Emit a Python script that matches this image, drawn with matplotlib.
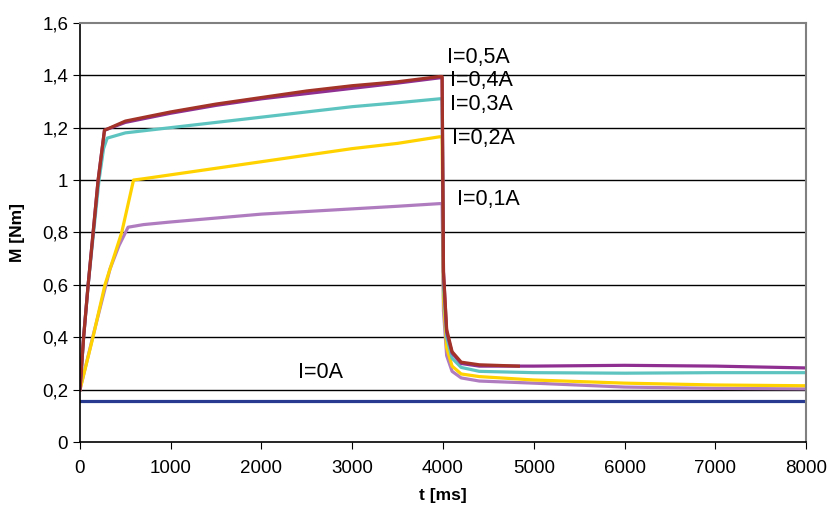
import matplotlib.pyplot as plt

plt.rcParams['font.family'] = ['Liberation Sans', 'DejaVu Sans']

t_0A = [0, 8000]
m_0A = [0.157, 0.157]

t_01A = [0, 140, 330, 430, 530, 700, 1000, 1500, 2000, 2500, 3000, 3500, 3960, 3990, 4005, 4040, 4100, 4200, 4400, 5000, 6000, 7000, 8000]
m_01A = [0.20, 0.40, 0.66, 0.75, 0.82, 0.83, 0.84, 0.855, 0.87, 0.88, 0.89, 0.90, 0.91, 0.91, 0.50, 0.33, 0.27, 0.245, 0.233, 0.225, 0.21, 0.205, 0.203]

t_02A = [0, 143, 275, 460, 590, 700, 1000, 1500, 2000, 2500, 3000, 3500, 3960, 3990, 4005, 4040, 4100, 4200, 4400, 5000, 6000, 7000, 8000]
m_02A = [0.20, 0.40, 0.60, 0.80, 1.00, 1.005, 1.02, 1.045, 1.07, 1.095, 1.12, 1.14, 1.165, 1.165, 0.55, 0.36, 0.29, 0.26, 0.25, 0.237, 0.225, 0.218, 0.215]

t_03A = [0, 40, 90, 210, 260, 300, 500, 1000, 1500, 2000, 2500, 3000, 3500, 3960, 3990, 4005, 4040, 4100, 4200, 4400, 5000, 6000, 7000, 8000]
m_03A = [0.20, 0.40, 0.60, 1.00, 1.12, 1.16, 1.18, 1.20, 1.22, 1.24, 1.26, 1.28, 1.295, 1.31, 1.31, 0.60, 0.40, 0.32, 0.285, 0.27, 0.265, 0.263, 0.265, 0.265]

t_04A = [0, 40, 90, 200, 270, 500, 1000, 1500, 2000, 2500, 3000, 3500, 3960, 3990, 4005, 4040, 4100, 4200, 4400, 5000, 6000, 7000, 8000]
m_04A = [0.20, 0.40, 0.60, 1.00, 1.19, 1.22, 1.255, 1.285, 1.31, 1.33, 1.35, 1.37, 1.39, 1.39, 0.65, 0.42, 0.34, 0.30, 0.29, 0.29, 0.293, 0.29, 0.283]

t_05A = [0, 40, 90, 200, 270, 500, 1000, 1500, 2000, 2500, 3000, 3500, 3960, 3990, 4005, 4040, 4100, 4200, 4400, 4830]
m_05A = [0.20, 0.40, 0.60, 1.00, 1.19, 1.225, 1.26, 1.29, 1.315, 1.34, 1.36, 1.375, 1.395, 1.395, 0.65, 0.43, 0.345, 0.305, 0.295, 0.29]

series = [
    (t_0A, m_0A, '#283A8F'),
    (t_01A, m_01A, '#B07CC0'),
    (t_02A, m_02A, '#FFD200'),
    (t_03A, m_03A, '#5EC4C0'),
    (t_04A, m_04A, '#8E2F91'),
    (t_05A, m_05A, '#A33228'),
]

labels = ['I=0A', 'I=0,1A', 'I=0,2A', 'I=0,3A', 'I=0,4A', 'I=0,5A']
label_t = [2400, 4150, 4100, 4080, 4080, 4040]
label_m = [0.265, 0.925, 1.16, 1.29, 1.378, 1.468]

fig = plt.figure(figsize=(8.27, 5.07), dpi=100)
ax = fig.add_axes([0.0967, 0.128, 0.878, 0.827])

for y in [0.2, 0.4, 0.6, 0.8, 1.0, 1.2, 1.4]:
    ax.axhline(y, color='black', lw=1, zorder=1)

for t, m, c in series:
    ax.plot(t, m, color=c, lw=2.3, zorder=2)

for lab, x, y in zip(labels, label_t, label_m):
    ax.text(x, y, lab, fontsize=15.5, va='center', ha='left')

ax.set_xlim(0, 8000)
ax.set_ylim(0, 1.6)
ax.set_xticks(range(0, 8001, 1000))
ax.set_yticks([0, 0.2, 0.4, 0.6, 0.8, 1.0, 1.2, 1.4, 1.6])
ax.set_yticklabels(['0', '0,2', '0,4', '0,6', '0,8', '1', '1,2', '1,4', '1,6'])
ax.tick_params(labelsize=13.5, length=5, direction='out', color='black')
ax.tick_params(axis='x', pad=8)
ax.spines['top'].set_color('#808080')
ax.spines['right'].set_color('#808080')
ax.spines['top'].set_linewidth(1.5)
ax.spines['right'].set_linewidth(1.5)
ax.spines['left'].set_linewidth(1.2)
ax.spines['bottom'].set_linewidth(1.2)

ax.set_xlabel('t [ms]', fontsize=12.5, fontweight='bold', labelpad=8)
ax.set_ylabel('M [Nm]', fontsize=12.5, fontweight='bold', labelpad=12)

plt.savefig('out.png', dpi=100)
